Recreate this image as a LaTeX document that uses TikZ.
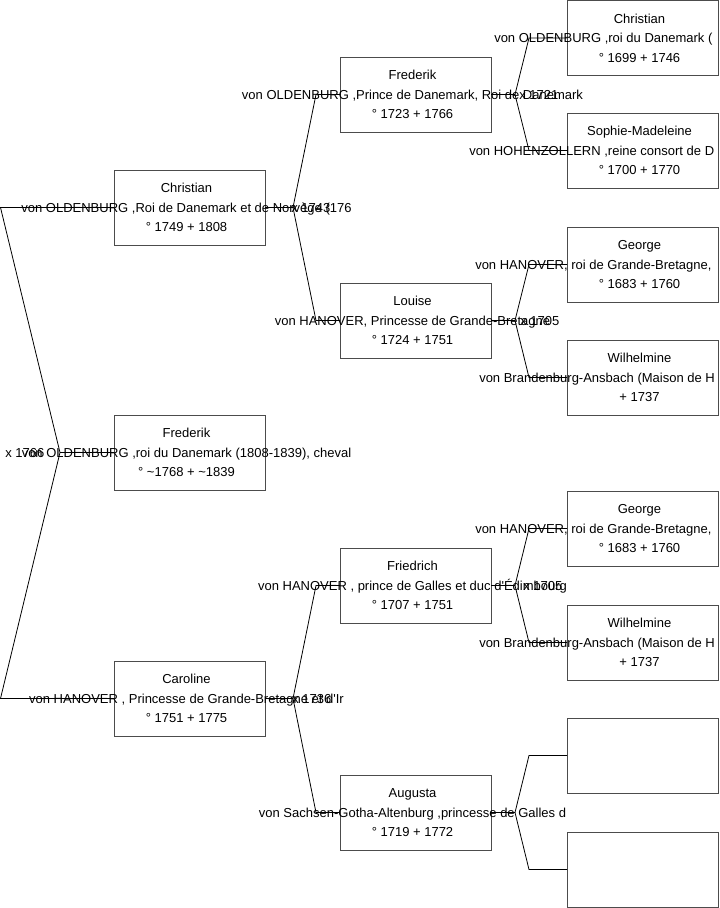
\documentclass[tikz,border=0pt]{standalone}
\usepackage{fontspec}
\newfontfamily\lsans[Ligatures=TeXOff]{Liberation Sans}
\definecolor{boxgray}{gray}{0.3}
\tikzset{
  box/.style={draw=boxgray, line width=0.75pt, minimum width=113.25pt, minimum height=56.25pt, inner sep=0pt, outer sep=0pt, anchor=north west},
  txt/.style={font=\lsans\fontsize{9.75pt}{11pt}\selectfont, inner sep=0pt, anchor=base, text=black},
  txtl/.style={txt, anchor=base west},
  link/.style={draw=black, line width=0.6pt},
}
\newcommand\person[6]{%
  \node[box] (#1) at (#2,#3) {};
  \node[txt] (#1-a) at (#2+72.5,#3+22.5) {#4};
  \node[txt] (#1-b) at (#2+72.5,#3+42) {#5};
  \node[txt] (#1-c) at (#2+72.5,#3+61.5) {#6};
}
\newcommand\personc[7]{%
  \node[box] (#1) at (#2,#3) {};
  \node[txt] (#1-a) at (#2+72.5,#3+22.5) {#4};
  \node[txtl] (#1-b) at (#5,#3+42) {#6};
  \node[txt] (#1-c) at (#2+72.5,#3+61.5) {#7};
}
\begin{document}
\begin{tikzpicture}[x=0.75pt,y=-0.75pt]
\useasboundingbox (0,0) rectangle (719,908);
\begin{scope}
\clip (0,0) rectangle (719,908);
% column 1
\person{p1}{114}{170}{Christian}{von OLDENBURG ,Roi de Danemark et de Norvège (176}{° 1749 + 1808}
\person{p2}{114}{415}{Frederik}{von OLDENBURG ,roi du Danemark (1808-1839), cheval}{° \textasciitilde1768 + \textasciitilde1839}
\person{p3}{114}{661}{Caroline}{von HANOVER , Princesse de Grande-Bretagne et d'Ir}{° 1751 + 1775}
% column 2
\person{q1}{340}{57}{Frederik}{von OLDENBURG ,Prince de Danemark, Roi de Danemark}{° 1723 + 1766}
\person{q2}{340}{283}{Louise}{von HANOVER, Princesse de Grande-Bretagne}{° 1724 + 1751}
\person{q3}{340}{548}{Friedrich}{von HANOVER , prince de Galles et duc d'Édimbourg}{° 1707 + 1751}
\person{q4}{340}{775}{Augusta}{von Sachsen-Gotha-Altenburg ,princesse de Galles d}{° 1719 + 1772}
% column 3
\personc{r1}{567}{0.5}{Christian}{494}{von OLDENBURG ,roi du Danemark (}{° 1699 + 1746}
\personc{r2}{567}{113}{Sophie-Madeleine}{469}{von HOHENZOLLERN ,reine consort de D}{° 1700 + 1770}
\personc{r3}{567}{227}{George}{475}{von HANOVER, roi de Grande-Bretagne,}{° 1683 + 1760}
\personc{r4}{567}{340}{Wilhelmine}{479}{von Brandenburg-Ansbach (Maison de H}{+ 1737}
\personc{r5}{567}{491}{George}{475}{von HANOVER, roi de Grande-Bretagne,}{° 1683 + 1760}
\personc{r6}{567}{605}{Wilhelmine}{479}{von Brandenburg-Ansbach (Maison de H}{+ 1737}
\node[box] (r7) at (567,718) {};
\node[box] (r8) at (567,832) {};
% marriage labels
\node[txtl] (m0) at (5,457) {x 1766};
\node[txtl] (m1) at (291,212) {x 1743};
\node[txtl] (m2) at (292,703) {x 1736};
\node[txtl] (m3) at (519,99) {x 1721};
\node[txtl] (m4) at (520,325) {x 1705};
\node[txtl] (m5) at (523,590) {x 1705};
% root fork
\coordinate (ra) at (0.5,207.5);
\coordinate (rv) at (60,452.5);
\coordinate (rb) at (0.5,698.5);
\draw[link] (p1.west) -- (ra) -- (rv) -- (rb) -- (p3.west);
\draw[link] (rv) -- (p2.west);
% column 1 forks
\coordinate (f1v) at (293,207.5); \coordinate (f1a) at (316,94.5); \coordinate (f1b) at (316,320.5);
\draw[link] (p1.east) -- (f1v) -- (f1a) -- (q1.west);
\draw[link] (f1v) -- (f1b) -- (q2.west);
\coordinate (f2v) at (293,698.5); \coordinate (f2a) at (316,585.5); \coordinate (f2b) at (316,812.5);
\draw[link] (p3.east) -- (f2v) -- (f2a) -- (q3.west);
\draw[link] (f2v) -- (f2b) -- (q4.west);
% column 2 forks
\coordinate (f3v) at (515,94.5); \coordinate (f3a) at (529,38); \coordinate (f3b) at (529,150.5);
\draw[link] (q1.east) -- (f3v) -- (f3a) -- (r1.west);
\draw[link] (f3v) -- (f3b) -- (r2.west);
\coordinate (f4v) at (515,320.5); \coordinate (f4a) at (529,264.5); \coordinate (f4b) at (529,377.5);
\draw[link] (q2.east) -- (f4v) -- (f4a) -- (r3.west);
\draw[link] (f4v) -- (f4b) -- (r4.west);
\coordinate (f5v) at (515,585.5); \coordinate (f5a) at (529,528.5); \coordinate (f5b) at (529,642.5);
\draw[link] (q3.east) -- (f5v) -- (f5a) -- (r5.west);
\draw[link] (f5v) -- (f5b) -- (r6.west);
\coordinate (f6v) at (515,812.5); \coordinate (f6a) at (529,755.5); \coordinate (f6b) at (529,869.5);
\draw[link] (q4.east) -- (f6v) -- (f6a) -- (r7.west);
\draw[link] (f6v) -- (f6b) -- (r8.west);
\end{scope}
\end{tikzpicture}
\end{document}
